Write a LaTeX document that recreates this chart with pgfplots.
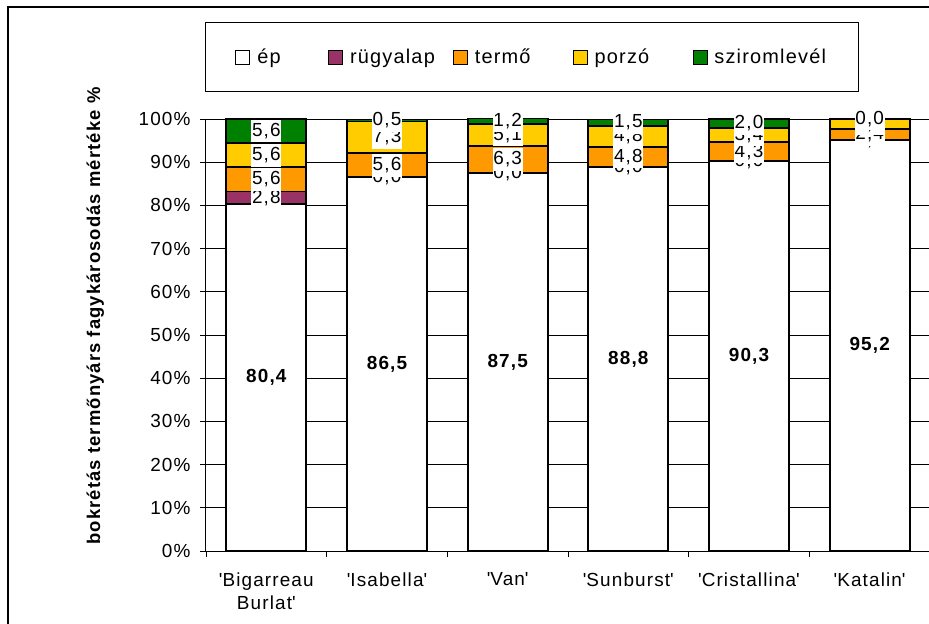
\documentclass[border=0pt]{standalone}
\usepackage{fontspec}
\setmainfont{Liberation Sans}[LetterSpace=6]
\usepackage{pgfplots}
\pgfplotsset{compat=1.18}
\usepackage{pgfplotstable}

\definecolor{xlplum}{HTML}{993366}
\definecolor{xlorange}{HTML}{FF9900}
\definecolor{xlyellow}{HTML}{FFCC00}
\definecolor{xlgreen}{HTML}{008000}

\pgfplotstableread{
x ep rugy termo porzo szirom
0 80.4 2.8 5.6 5.6 5.6
1 86.5 0.0 5.6 7.3 0.5
2 87.5 0.0 6.3 5.1 1.2
3 88.8 0.0 4.8 4.8 1.5
4 90.3 0.0 4.3 3.4 2.0
5 95.2 0.0 2.4 2.4 0.0
}\data

% label positions (segment centres) and texts
\pgfplotstableread{
x y l
0 40.2 80,4
1 43.25 86,5
2 43.75 87,5
3 44.4 88,8
4 45.15 90,3
5 47.6 95,2
}\labep
\pgfplotstableread{
x y l
0 81.8 2,8
1 86.5 0,0
2 87.5 0,0
3 88.8 0,0
4 90.3 0,0
5 95.2 0,0
}\labrugy
\pgfplotstableread{
x y l
0 86.0 5,6
1 89.3 5,6
2 90.65 6,3
3 91.2 4,8
4 92.45 4,3
5 96.4 2,4
}\labtermo
\pgfplotstableread{
x y l
0 91.6 5,6
1 95.75 7,3
2 96.35 5,1
3 96.0 4,8
4 96.3 3,4
5 98.8 2,4
}\labporzo
\pgfplotstableread{
x y l
0 97.2 5,6
1 99.65 0,5
2 99.5 1,2
3 99.15 1,5
4 99.0 2,0
5 100.0 0,0
}\labszirom

\newcommand{\chartfont}{\fontsize{19}{23}\selectfont}
\newcommand{\q}{\textquotesingle}

\begin{document}
\begin{tikzpicture}
\useasboundingbox (-206bp,-73bp) rectangle (723bp,551bp);
\draw[line width=1.3bp] (-198bp,-200bp) rectangle (760bp,544bp);
\begin{axis}[
  scale only axis, width=724bp, height=432bp,
  ybar stacked, bar width=80bp,
  xmin=-0.5, xmax=5.5, ymin=0, ymax=100,
  xtick={0,1,2,3,4,5},
  xticklabels={{\q Bigarreau\\Burlat\q},\q Isabella\q,\q Van\q,\q Sunburst\q,\q Cristallina\q,\q Katalin\q},
  major x tick style={draw=none},
  minor xtick={-0.5,0.5,1.5,2.5,3.5,4.5,5.5},
  ytick={0,10,...,100},
  yticklabel={\pgfmathprintnumber{\tick}\%},
  /pgf/number format/assume math mode=true,
  tick align=outside, major tick length=6bp, minor tick length=6bp,
  tick style={black, line width=0.8bp},
  axis x line*=bottom, axis y line*=left,
  axis line style={-, black, line width=1bp},
  ymajorgrids, grid style={black, line width=0.8bp},
  ticklabel style={font=\chartfont},
  xticklabel style={align=center, yshift=-12bp},
  yticklabel style={xshift=-6bp},
  ylabel={\bfseries bokrétás termőnyárs fagykárosodás mértéke \%},
  every axis y label/.style={at={(axis description cs:-0.153,0.544)}, rotate=90, anchor=center, font=\fontsize{18.5}{22}\selectfont},
  legend columns=5,
  legend style={at={(axis description cs:-0.0014,1.1435)}, anchor=west, draw=black, line width=1bp,
    inner xsep=30bp, inner ysep=24bp, font=\fontsize{20}{23}\selectfont,
    /tikz/every odd column/.append style={column sep=5bp},
    /tikz/every even column/.append style={column sep=0bp}},
  legend image code/.code={\draw[#1, draw=black, line width=0.8bp] (0bp,-7bp) rectangle (14bp,7bp);},
  every axis plot/.append style={draw=black, line width=1.8bp},
]
\addplot[fill=white] table[x=x,y=ep] {\data};
\addlegendentry{\makebox[69bp][l]{ép}}
\addplot[fill=xlplum] table[x=x,y=rugy] {\data};
\addlegendentry{\makebox[101bp][l]{rügyalap}}
\addplot[fill=xlorange] table[x=x,y=termo] {\data};
\addlegendentry{\makebox[96bp][l]{termő}}
\addplot[fill=xlyellow] table[x=x,y=porzo] {\data};
\addlegendentry{\makebox[96bp][l]{porzó}}
\addplot[fill=xlgreen] table[x=x,y=szirom] {\data};
\addlegendentry{sziromlevél}
\end{axis}
\begin{axis}[
  scale only axis, width=724bp, height=432bp,
  xmin=-0.5, xmax=5.5, ymin=0, ymax=100,
  hide axis, clip=false,
  nodes near coords, point meta=explicit symbolic,
  every node near coord/.style={anchor=center, fill=white, inner xsep=0.8bp, inner ysep=3.5bp, font=\chartfont},
]
\addplot[draw=none, mark=none, every node near coord/.append style={font=\chartfont\bfseries}] table[x=x,y=y,meta=l] {\labep};
\addplot[draw=none, mark=none] table[x=x,y=y,meta=l] {\labrugy};
\addplot[draw=none, mark=none] table[x=x,y=y,meta=l] {\labtermo};
\addplot[draw=none, mark=none] table[x=x,y=y,meta=l] {\labporzo};
\addplot[draw=none, mark=none] table[x=x,y=y,meta=l] {\labszirom};
\end{axis}
\end{tikzpicture}
\end{document}
